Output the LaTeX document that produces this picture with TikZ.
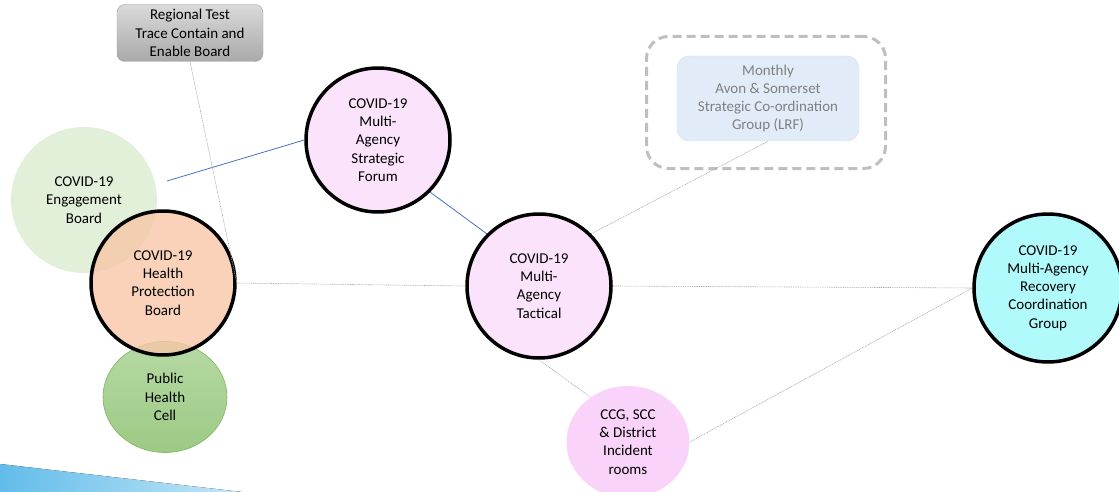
\documentclass[tikz,border=0pt]{standalone}
\usepackage{fontspec}
\setmainfont{Carlito}
\usetikzlibrary{shapes.geometric, positioning}

\definecolor{engagegreen}{HTML}{E2EFD9}
\definecolor{hpbpeach}{HTML}{F7C7A8}
\definecolor{cellgreen1}{HTML}{B6D9A4}
\definecolor{cellgreen2}{HTML}{9CCA84}
\definecolor{cellborder}{HTML}{7DB55A}
\definecolor{forumpink}{HTML}{FBE4FB}
\definecolor{ccgpink}{HTML}{F9D3F9}
\definecolor{recoverycyan}{HTML}{B0FAFC}
\definecolor{regtop}{HTML}{DADADA}
\definecolor{regbottom}{HTML}{A9A9A9}
\definecolor{reggray}{HTML}{A0A0A0}
\definecolor{dashgray}{HTML}{BFBFBF}
\definecolor{lrfblue}{HTML}{E2ECF8}
\definecolor{lrfedge}{HTML}{D2E0F2}
\definecolor{lrftext}{HTML}{808080}
\definecolor{linkgray}{HTML}{A6A6A6}
\definecolor{linkblue}{HTML}{4472C4}
\definecolor{wedgeblue}{HTML}{62BCEA}
\definecolor{wedgelight}{HTML}{C4E7F8}

\begin{document}
\begin{tikzpicture}[x=1pt, y=-1pt,
    font=\fontsize{15}{18.2}\selectfont,
    board/.style={draw=black, line width=3.5pt, circle, minimum size=144pt, inner sep=0pt, align=center},
    blob/.style={ellipse, inner sep=0pt, align=center},
    thinlink/.style={draw=linkgray, line width=0.6pt, dash pattern=on 1pt off 0.8pt},
    bluelink/.style={draw=linkblue, line width=0.8pt}]

            \useasboundingbox (0,0) rectangle (1119,492);

            % corner wedge
            \fill[left color=wedgeblue, right color=wedgelight] (0,464) -- (242,492) -- (0,492) -- cycle;

            \node[circle, inner sep=0pt, align=center, minimum size=146pt, fill=engagegreen] (eng) at (84,200) {COVID-19\\Engagement\\Board};
            \node[blob, minimum width=124pt, minimum height=111pt, top color=cellgreen1, bottom color=cellgreen2, draw=cellborder, line width=0.6pt] (cell) at (165,397) {Public\\Health\\Cell};
            \node[board, fill=hpbpeach, fill opacity=0.8, text opacity=1] (hpb) at (163,283) {COVID-19\\Health\\Protection\\Board};

            \node[draw=reggray, rounded corners=8pt, top color=regtop, bottom color=regbottom, minimum width=146pt, minimum height=57pt, inner sep=0pt, align=center] (reg) at (190,33) {Regional Test\\Trace Contain and\\Enable Board};

            \node[board, fill=forumpink] (forum) at (378,140) {COVID-19\\Multi-\\Agency\\Strategic\\Forum};
            \node[board, fill=forumpink] (tac) at (539,286) {COVID-19\\Multi-\\Agency\\Tactical};
            \node[board, fill=recoverycyan, minimum size=148pt] (rec) at (1048,288) {COVID-19\\Multi-Agency\\Recovery\\Coordination\\Group};
            \node[blob, fill=ccgpink, minimum width=123pt, minimum height=112pt] (ccg) at (628,442) {CCG, SCC\\\& District\\Incident\\rooms};

            % LRF frame
            \node[draw=dashgray, line width=3pt, dash pattern=on 9pt off 5pt, rounded corners=22pt, minimum width=239pt, minimum height=132pt] (lrfframe) at (766,102.5) {};
            \node[draw=lrfedge, fill=lrfblue, rounded corners=12pt, minimum width=182pt, minimum height=85pt, inner sep=0pt, text=lrftext, align=center] (lrf) at (768,98.5) {Monthly\\Avon \& Somerset\\Strategic Co-ordination\\Group (LRF)};

            % Connections: strategic links
            \coordinate (engtip) at (167,181);
            \draw[bluelink] (engtip) -- (forum.west);
            \draw[bluelink] (forum.-45) -- (tac.135);

            % Connections: other groups
            \draw[thinlink] (reg.south) -- (hpb.east);
            \draw[thinlink] (hpb.east) -- (tac.west);
            \draw[thinlink] (tac.east) -- (rec.west);
            \draw[thinlink] (tac.45) -- (lrf.south);
            \draw[thinlink] (tac.south) -- (ccg.130);
            \draw[thinlink] (ccg.east) -- (rec.west);

        \end{tikzpicture}
\end{document}
